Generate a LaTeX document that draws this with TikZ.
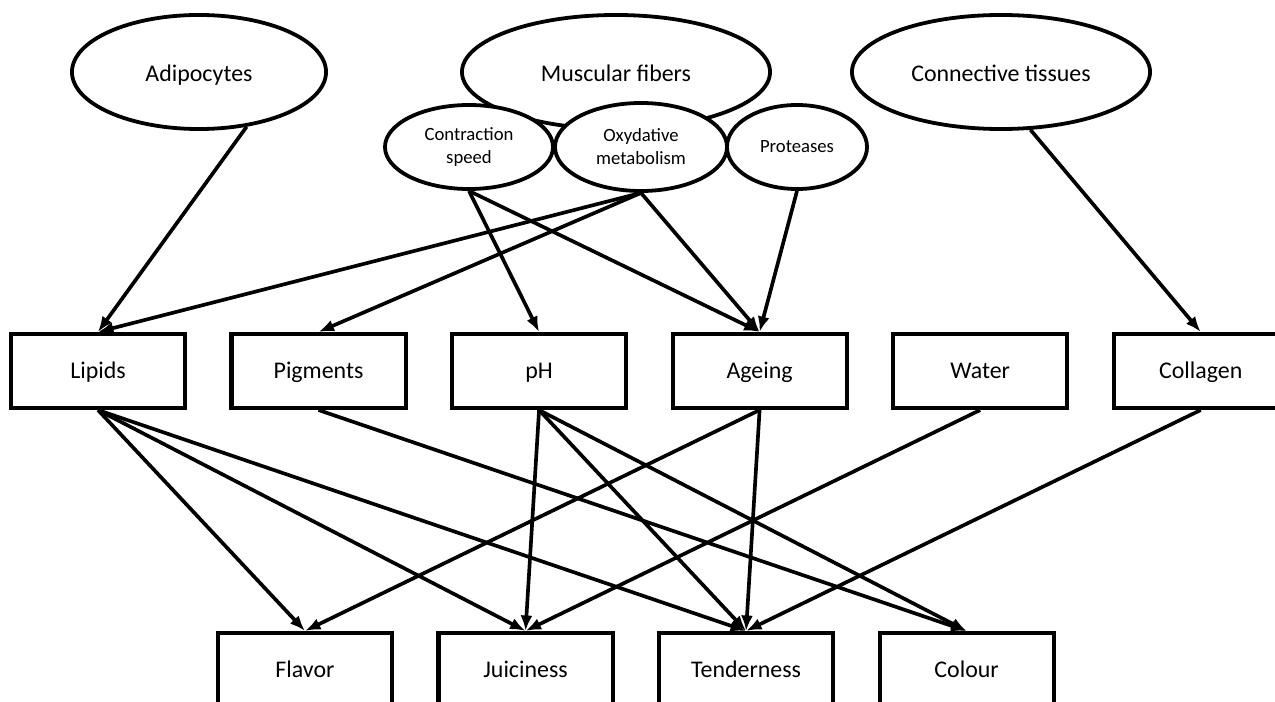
\documentclass[tikz,border=0pt]{standalone}
\usepackage{fontspec}
\setmainfont{Carlito}
\usetikzlibrary{arrows.meta,positioning,shapes.geometric}

\begin{document}
\begin{tikzpicture}[x=0.025cm, y=-0.025cm, >={Latex[length=11pt,width=8.5pt]},
		box/.style={draw, rectangle, line width=2.9pt, minimum width=4.35cm, minimum height=1.85cm, text height=2.8ex, text depth=0.6ex, font=\fontsize{17}{20}\selectfont},
		bigell/.style={draw, ellipse, line width=2.7pt, inner sep=0pt, minimum height=2.85cm, text height=2.9ex, text depth=0.2ex, font=\fontsize{17}{20}\selectfont},
		smallell/.style={draw, ellipse, fill=white, line width=2.7pt, inner sep=0pt, align=center, font=\fontsize{13.3}{16.4}\selectfont},
		link/.style={->, line width=2.6pt}]
			\useasboundingbox (0,0) rectangle (1275,702);
			% Nodes
			\node[bigell, minimum width=6.35cm] (adipo) at (199,72) {Adipocytes};
			\node[bigell, minimum width=7.7cm] (muscle) at (616,72) {Muscular fibers};
			\node[bigell, minimum width=7.45cm] (connect) at (1001,72) {Connective tissues};
			
			\node[smallell, minimum width=4.2cm, minimum height=2.1cm] (contract) at (469,147) {Contraction\\speed};
			\node[smallell, minimum width=4.3cm, minimum height=2.2cm] (oxy) at (641,147) {Oxydative\\metabolism};
			\node[smallell, minimum width=3.5cm, minimum height=2.1cm] (prot) at (797,147) {Proteases};
			
			\node[box] (lipids) at (98,371) {Lipids};
			\node[box, right=1.06cm of lipids] (pigments) {Pigments};
			\node[box, right=1.06cm of pigments] (ph) {pH};
			\node[box, right=1.06cm of ph] (ageing) {Ageing};
			\node[box, right=1.06cm of ageing] (water) {Water};
			\node[box, right=1.06cm of water] (collagen) {Collagen};
			
			\node[box] (flavor) at (305,670) {Flavor};
			\node[box, right=1.06cm of flavor] (juicy) {Juiciness};
			\node[box, right=1.06cm of juicy] (tender) {Tenderness};
			\node[box, right=1.06cm of tender] (colour) {Colour};
			
			% Arrows
			\draw[link] (adipo.-49) -- (lipids.north);
			\draw[link] (oxy.south) -- (lipids.north);
			\draw[link] (oxy.south) -- (pigments.north);
			\draw[link] (contract.south) -- (ph.north);
			\draw[link] (contract.south) -- (ageing.north);
			\draw[link] (oxy.south) -- (ageing.north);
			\draw[link] (prot.south) -- (ageing.north);
			\draw[link] (connect.-63) -- (collagen.north);
			
			\draw[link] (lipids.south) -- (flavor.north);
			\draw[link] (lipids.south) -- (juicy.north);
			\draw[link] (lipids.south) -- (tender.north);
			\draw[link] (pigments.south) -- (colour.north);
			\draw[link] (ph.south) -- (juicy.north);
			\draw[link] (ph.south) -- (tender.north);
			\draw[link] (ph.south) -- (colour.north);
			\draw[link] (ageing.south) -- (flavor.north);
			\draw[link] (ageing.south) -- (tender.north);
			\draw[link] (water.south) -- (juicy.north);
			\draw[link] (collagen.south) -- (tender.north);
		\end{tikzpicture}
\end{document}
